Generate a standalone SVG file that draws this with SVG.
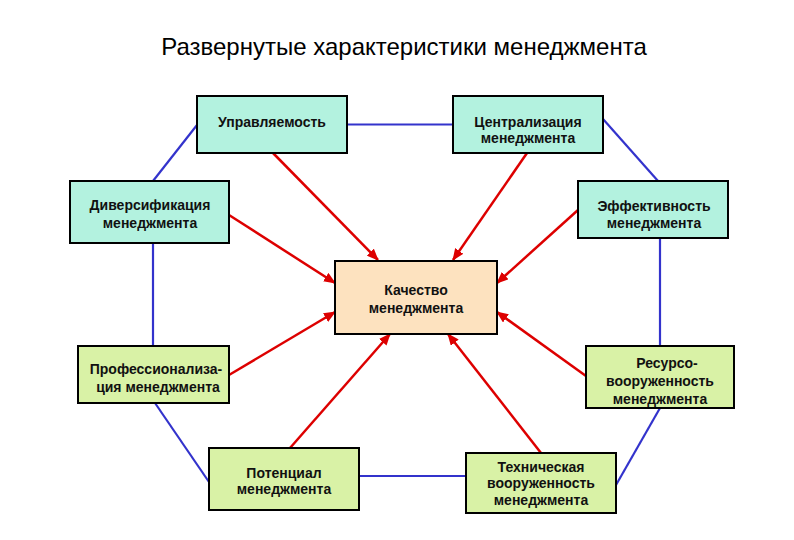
<svg xmlns="http://www.w3.org/2000/svg" width="794" height="540" viewBox="0 0 794 540">
<defs>
<style>
.box{stroke:#000;stroke-width:2}
.teal{fill:#b3f2df}
.green{fill:#d9f2a6}
.core{fill:#fde2bf}
.t{font-family:"Liberation Sans",Arial,sans-serif;font-size:14px;font-weight:bold;fill:#111;text-anchor:middle}
.title{font-family:"Liberation Sans",Arial,sans-serif;font-size:24px;fill:#000;text-anchor:middle}
.blue{stroke:#3333cc;stroke-width:2.2;fill:none}
.red{stroke:#dd0000;stroke-width:2.5;fill:none}
</style>
<marker id="ah" viewBox="0 0 12 10" refX="11" refY="5" markerWidth="12" markerHeight="10" markerUnits="userSpaceOnUse" orient="auto">
<path d="M0,0 L12,5 L0,10 z" fill="#dd0000"/>
</marker>
</defs>
<rect width="794" height="540" fill="#fff"/>
<text class="title" x="404" y="55">Развернутые характеристики менеджмента</text>
<g id="connectors">
<line class="blue" x1="197" y1="125" x2="153" y2="181"/>
<line class="blue" x1="347" y1="124.5" x2="453" y2="124.5"/>
<line class="blue" x1="603" y1="119" x2="658" y2="181"/>
<line class="blue" x1="153" y1="243" x2="153" y2="346"/>
<line class="blue" x1="660" y1="238" x2="660" y2="346"/>
<line class="blue" x1="155" y1="403" x2="209" y2="482"/>
<line class="blue" x1="359" y1="476" x2="466" y2="476"/>
<line class="blue" x1="616" y1="485" x2="660" y2="408"/>
<line class="red" x1="273" y1="153" x2="378" y2="260" marker-end="url(#ah)"/>
<line class="red" x1="527" y1="153" x2="453" y2="260" marker-end="url(#ah)"/>
<line class="red" x1="229" y1="215" x2="335" y2="283" marker-end="url(#ah)"/>
<line class="red" x1="578" y1="210" x2="497" y2="283" marker-end="url(#ah)"/>
<line class="red" x1="229" y1="375" x2="335" y2="312" marker-end="url(#ah)"/>
<line class="red" x1="586" y1="376" x2="497" y2="312" marker-end="url(#ah)"/>
<line class="red" x1="290" y1="448" x2="390" y2="334" marker-end="url(#ah)"/>
<line class="red" x1="541" y1="453" x2="448" y2="334" marker-end="url(#ah)"/>
</g>
<g id="upravlyaemost">
<rect class="box teal" x="197" y="96" width="150" height="57"/>
<text class="t" x="272" y="126.5">Управляемость</text>
</g>
<g id="centralizaciya">
<rect class="box teal" x="453" y="96" width="150" height="57"/>
<text class="t" x="528" y="126.5">Централизация</text>
<text class="t" x="528" y="143">менеджмента</text>
</g>
<g id="diversifikaciya">
<rect class="box teal" x="70" y="181" width="159" height="62"/>
<text class="t" x="150" y="210">Диверсификация</text>
<text class="t" x="150" y="227.5">менеджмента</text>
</g>
<g id="effektivnost">
<rect class="box teal" x="578" y="181" width="150" height="57"/>
<text class="t" x="654" y="211">Эффективность</text>
<text class="t" x="654" y="228">менеджмента</text>
</g>
<g id="kachestvo">
<rect class="box core" x="335" y="261" width="162" height="73"/>
<text class="t" x="416" y="295">Качество</text>
<text class="t" x="416" y="313">менеджмента</text>
</g>
<g id="professionalizaciya">
<rect class="box green" x="78" y="346" width="151" height="57"/>
<text class="t" x="156" y="374">Профессионализа-</text>
<text class="t" x="158" y="391.5">ция менеджмента</text>
</g>
<g id="resursovooruzhennost">
<rect class="box green" x="586" y="346" width="148" height="62"/>
<text class="t" x="667" y="368">Ресурсо-</text>
<text class="t" x="660" y="386">вооруженность</text>
<text class="t" x="660" y="404">менеджмента</text>
</g>
<g id="potencial">
<rect class="box green" x="209" y="448" width="150" height="62"/>
<text class="t" x="284" y="477.5">Потенциал</text>
<text class="t" x="284" y="494">менеджмента</text>
</g>
<g id="tehnicheskaya">
<rect class="box green" x="466" y="453" width="150" height="60"/>
<text class="t" x="541" y="471.5">Техническая</text>
<text class="t" x="541" y="488">вооруженность</text>
<text class="t" x="541" y="505">менеджмента</text>
</g>
</svg>
